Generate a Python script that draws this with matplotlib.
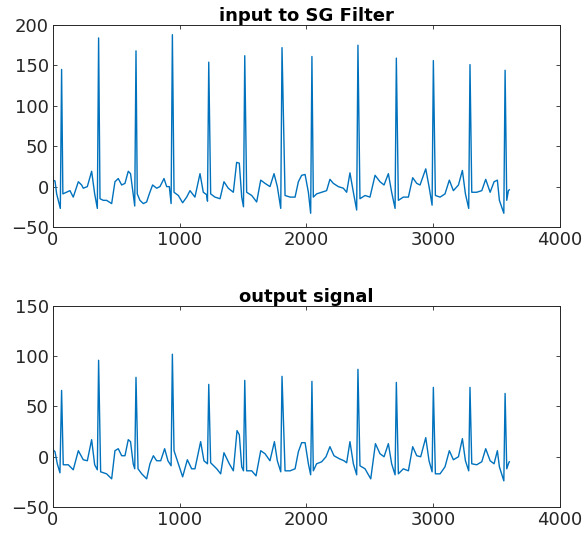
import matplotlib
matplotlib.use("Agg")
import matplotlib.pyplot as plt

# ----- data (sample index, amplitude) -----
in_x = [0, 16, 29, 58, 68,
        78, 107, 134, 160, 200, 226, 239, 271, 305, 329, 350, 360,
        371, 397, 423, 463, 489, 515, 542, 568, 594, 612, 633, 645, 655,
        665, 686, 713, 739, 760, 786, 818, 844, 876, 897, 918, 932, 942,
        955, 989, 1023, 1055, 1081, 1120, 1160, 1186, 1212, 1219, 1229,
        1244, 1278, 1318, 1349, 1383, 1423, 1449, 1470, 1489, 1503, 1513,
        1528, 1568, 1607, 1639, 1673, 1712, 1744, 1770, 1797, 1807,
        1831, 1871, 1910, 1936, 1962, 1989, 2015, 2033, 2043,
        2054, 2080, 2120, 2159, 2185, 2212, 2251, 2291, 2317, 2343, 2370, 2396, 2406,
        2422, 2462, 2501, 2541, 2580, 2612, 2646, 2672, 2699, 2709,
        2725, 2764, 2804, 2838, 2870, 2896, 2941, 2967, 2991, 3001,
        3017, 3054, 3093, 3127, 3159, 3199, 3230, 3254, 3280, 3290,
        3304, 3343, 3383, 3414, 3449, 3480, 3506, 3522, 3557, 3567,
        3580, 3593, 3600]
in_y = [8, 7, -9, -27, 145,
        -9, -7, -5, -13, 6, 2, -2, 0, 19, -9, -27, 184,
        -15, -17, -17, -21, 6, 10, 2, 4, 19, 16, -9, -24, 168,
        -9, -17, -21, -19, -9, 2, -2, 0, 10, 0, 0, -21, 188,
        -7, -11, -20, -13, -5, -13, 16, -7, -10, -18, 154,
        -9, -13, -15, 6, -2, -7, 30, 29, -13, -25, 162,
        -7, -11, -19, 8, 4, 0, 16, 0, -27, 172,
        -11, -13, -13, 6, 14, 15, -7, -33, 161,
        -13, -9, -7, -5, 9, 4, 0, -2, -7, 17, -7, -29, 175,
        -15, -11, -13, 14, 6, 2, 16, -7, -27, 159,
        -17, -13, -13, 11, 4, 2, 22, 0, -23, 156,
        -11, -13, -9, 8, -5, 2, 20, -9, -27, 151,
        -7, -7, -5, 9, -7, 6, 8, -17, -33, 144,
        -17, -5, -4]

out_x = [0, 16, 34, 55, 68,
         81, 121, 160, 200, 239, 271, 305, 329, 350, 360,
         376, 423, 463, 489, 515, 542, 568, 594, 612, 633, 645, 655,
         671, 700, 739, 765, 792, 818, 850, 881, 907, 932, 942,
         955, 989, 1023, 1060, 1094, 1120, 1165, 1191, 1219, 1229,
         1244, 1292, 1323, 1349, 1391, 1423, 1452, 1470, 1489, 1503, 1513,
         1528, 1568, 1602, 1639, 1673, 1712, 1747, 1770, 1797, 1807,
         1831, 1871, 1910, 1936, 1962, 1989, 2015, 2033, 2043,
         2054, 2080, 2120, 2154, 2185, 2217, 2259, 2296, 2317, 2343, 2370, 2396, 2406,
         2422, 2462, 2507, 2544, 2580, 2612, 2646, 2672, 2699, 2709,
         2725, 2764, 2804, 2838, 2870, 2901, 2941, 2967, 2991, 3001,
         3017, 3054, 3093, 3127, 3159, 3199, 3230, 3254, 3280, 3290,
         3304, 3343, 3383, 3414, 3449, 3480, 3506, 3522, 3557, 3567,
         3580, 3593, 3600]
out_y = [7, 5, -7, -16, 66,
         -8, -8, -13, 6, -3, -4, 17, -8, -13, 96,
         -15, -17, -22, 6, 8, 1, 1, 17, 15, -7, -12, 79,
         -12, -17, -22, -7, 1, -4, -4, 8, -4, -9, 102,
         6, -7, -20, -3, -12, -12, 15, -4, -7, 72,
         -6, -12, -17, 4, -7, -14, 26, 22, -10, -14, 76,
         -14, -14, -19, 6, 3, -4, 15, -4, -15, 80,
         -14, -14, -12, 5, 14, 14, -7, -18, 75,
         -14, -7, -5, 0, 10, 1, -2, -4, -6, 15, -7, -18, 87,
         -9, -12, -22, 13, 3, 0, 13, -7, -18, 74,
         -17, -12, -14, 10, 1, 0, 19, -4, -15, 69,
         -17, -17, -10, 6, -3, 0, 18, -4, -14, 69,
         -7, -8, -5, 8, -4, -7, 6, -10, -24, 63,
         -12, -7, -5]

plt.rcParams['font.family'] = ['DejaVu Sans']
line_color = (0.0, 0.447, 0.741)

fig = plt.figure(figsize=(5.86, 5.33), dpi=100)
ax1 = fig.add_axes([0.0904, 0.5741, 0.8652, 0.379])
ax2 = fig.add_axes([0.0904, 0.0488, 0.8652, 0.3771])

def style(ax, ylim, yticks, title):
    ax.set_xlim(0, 4000)
    ax.set_ylim(*ylim)
    ax.set_xticks([0, 1000, 2000, 3000, 4000])
    ax.set_yticks(yticks)
    ax.tick_params(direction="in", length=3, width=0.6, top=True, right=True,
                   labelsize=13, colors="#262626", pad=3)
    for s in ax.spines.values():
        s.set_linewidth(0.7)
        s.set_color("#262626")
    ax.set_title(title, fontsize=13, fontweight="bold", pad=3)

ax1.plot(in_x, in_y, color=line_color, linewidth=1.0)
style(ax1, (-50, 200), [-50, 0, 50, 100, 150, 200], "input to SG Filter")

ax2.plot(out_x, out_y, color=line_color, linewidth=1.0)
style(ax2, (-50, 150), [-50, 0, 50, 100, 150], "output signal")

fig.savefig("out.png", dpi=100)
